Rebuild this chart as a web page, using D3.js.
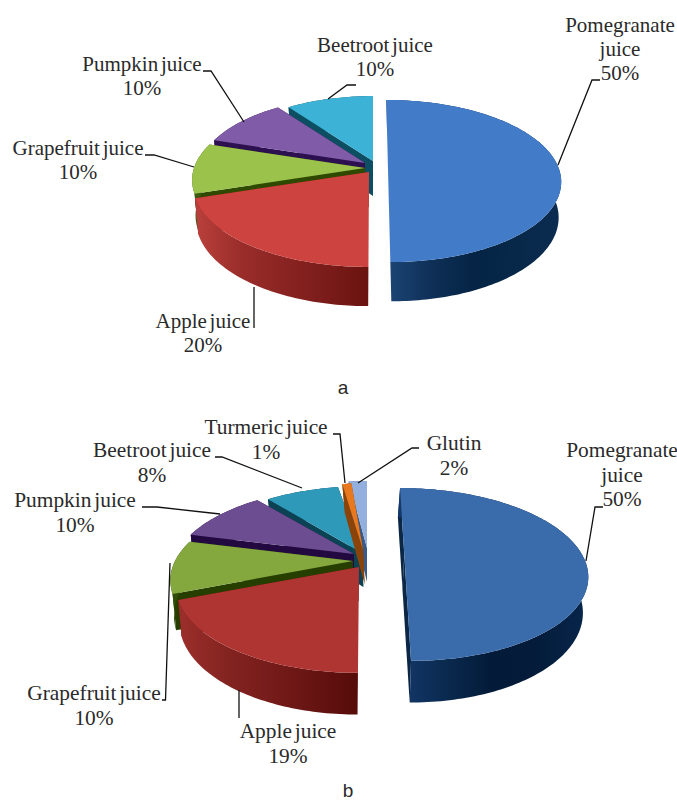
<!DOCTYPE html>
<html>
<head>
<meta charset="utf-8">
<script src="https://cdn.jsdelivr.net/npm/d3@7/dist/d3.min.js"></script>
<style>
html,body{margin:0;padding:0;background:#fff;overflow:hidden}
svg{display:block}
text{fill:#2a2a2a}
</style>
</head>
<body>
<svg id="chart" width="677" height="801"></svg>
<script>
// ---- data ----
const categoriesA = ["Pomegranate juice", "Apple juice", "Grapefruit juice", "Pumpkin juice", "Beetroot juice"];
const valuesA = [50, 20, 10, 10, 10];
const categoriesB = ["Pomegranate juice", "Apple juice", "Grapefruit juice", "Pumpkin juice", "Beetroot juice", "Turmeric juice", "Glutin"];
const valuesB = [50, 19, 10, 10, 8, 1, 2];

// ---- styles ----
const topColorsA = ["#427cc8", "#cc4340", "#9bc34b", "#7f5ba8", "#3cb2d6"];
const faceColorsA = ["#153a66", "#7a1a18", "#2f4a00", "#2d1050", "#0d4f62"];
const wallStopsA = [
  ["#1c4676", "#0f3058", "#052445", "#072848", "#0b2c50"],
  ["#b83f3b", "#9a2d2a", "#8a2422", "#7a1c1a", "#6a130f"],
  ["#3a5a10", "#3a5a10"], ["#2d1050", "#2d1050"], ["#0d4f62", "#0d4f62"]
];
const topColorsB = ["#3a6cac", "#ae3532", "#84a73e", "#6d4d91", "#2f99ba", "#e8791f", "#93afde"];
const faceColorsB = ["#0b2745", "#5c1210", "#263f00", "#220a40", "#0b4355", "#8a4308", "#3a5a88"];
const wallStopsB = [
  ["#14386a", "#0a2a50", "#031b38", "#041c3a", "#07254a"],
  ["#9a2e2a", "#842421", "#761c1a", "#661412", "#560c09"],
  ["#2f4d08", "#2f4d08"], ["#220a40", "#220a40"], ["#0b4355", "#0b4355"], ["#8a4308", "#8a4308"], ["#3a5a88", "#3a5a88"]
];

// ---- layout: projection of each pie and the place of each slice ----
const viewA = {w: 171, h: 79.3, p: 0.148, d: 35, q: 0.02};
const viewB = {w: 178, h: 82, p: 0.225, d: 34, q: 0.02};
const placeA = [
  {ax: 388, ay: 169, lean: 0.025, r: 1, shift: 0},
  {ax: 369, ay: 172, lean: -0.006, r: 1.02, shift: 0},
  {ax: 365, ay: 168, lean: 0, r: 1, shift: 0},
  {ax: 365, ay: 163, lean: 0, r: 0.97, shift: 0},
  {ax: 373, ay: 161, lean: 0, r: 0.94, shift: 0}
];
const placeB = [
  {ax: 404.3, ay: 555, lean: 0.0636, r: 1, shift: -4},
  {ax: 359, ay: 567, lean: -0.01, r: 1, shift: 0},
  {ax: 353, ay: 561, lean: 0, r: 1, shift: 0},
  {ax: 354, ay: 554, lean: 0, r: 1, shift: 0},
  {ax: 362, ay: 553, lean: -0.05, r: 1, shift: 3},
  {ax: 363, ay: 550, lean: -0.1, r: 1, shift: 5},
  {ax: 367, ay: 548, lean: 0, r: 1, shift: 0}
];
const orderA = [4, 3, 2, 0, 1];
const orderB = [6, 4, 5, 3, 2, 0, 1];

const labelsA = [
  {lines: ["Pomegranate", "juice"], x: 620, y: 32},
  {lines: ["Apple juice"], x: 203, y: 328},
  {lines: ["Grapefruit juice"], x: 78, y: 155},
  {lines: ["Pumpkin juice"], x: 142, y: 71},
  {lines: ["Beetroot juice"], x: 375, y: 52}
];
const labelsB = [
  {lines: ["Pomegranate", "juice"], x: 622, y: 457},
  {lines: ["Apple juice"], x: 288, y: 738},
  {lines: ["Grapefruit juice"], x: 94, y: 700},
  {lines: ["Pumpkin juice"], x: 75, y: 507},
  {lines: ["Beetroot juice"], x: 152, y: 457},
  {lines: ["Turmeric juice"], x: 266, y: 434},
  {lines: ["Glutin"], x: 454, y: 450}
];
const leadersA = [
  [[600,80],[592,80],[558,165]],
  [[254,287],[254,328]],
  [[145,155],[154,155],[194,167]],
  [[203,71],[211,71],[244,122]],
  [[356,85],[347,85],[328,99]]
];
const leadersB = [
  [[603,507],[595,507],[586,561]],
  [[239,690],[239,718]],
  [[170,563],[165.5,700],[162,700]],
  [[142,507],[157,507],[220,514]],
  [[215,457],[222,457],[302,488]],
  [[333,434],[340,434],[345,483]],
  [[419,448],[412,448],[358,483]]
];
const captions = [{t: "a", x: 343, y: 394}, {t: "b", x: 348, y: 797}];

// ---- drawing ----
const svg = d3.select("#chart");
const defs = svg.append("defs");
const pieGen = d3.pie().sort(null).value(d => d).startAngle(0).endAngle(2 * Math.PI);
const lineGen = d3.line();

function rim(view, pl, th, bottom) {
  const c = Math.cos(th), s = Math.sin(th), D = 1 + view.p * c;
  let dx = pl.r * view.w * s / D, dy = -pl.r * view.h * c / D;
  if (bottom) { dx *= 1 - view.q; dy = dy * (1 - view.q) + view.d / D; }
  return [pl.ax + dx + pl.lean * dy + (bottom ? pl.shift : 0), pl.ay + dy];
}
function apex(view, pl, bottom) {
  const dy = bottom ? view.d : 0;
  return [pl.ax + pl.lean * dy + (bottom ? pl.shift : 0), pl.ay + dy];
}
function arcAngles(a0, a1) {
  const n = Math.max(4, Math.ceil((a1 - a0) / 0.02));
  return d3.range(n + 1).map(i => a0 + (a1 - a0) * i / n);
}

function drawPie(id, values, view, places, order, tops, faces, walls, labels, leaders, fontSize, lineHeight) {
  const arcs = pieGen(values);
  const g = svg.append("g").attr("class", "pie-" + id);
  order.forEach(i => {
    const a = arcs[i], pl = places[i];
    const ths = arcAngles(a.startAngle, a.endAngle);
    const top = ths.map(t => rim(view, pl, t, false));
    const bot = ths.map(t => rim(view, pl, t, true));
    const sl = g.append("g");
    // cut faces
    [a.startAngle, a.endAngle].forEach(t => {
      sl.append("path")
        .attr("d", lineGen([apex(view, pl, false), rim(view, pl, t, false), rim(view, pl, t, true), apex(view, pl, true)]) + "Z")
        .attr("fill", faces[i]);
    });
    // outer wall with horizontal shading
    const ext = d3.extent(bot, p => p[0]);
    const gid = "wall-" + id + "-" + i;
    const grad = defs.append("linearGradient").attr("id", gid)
      .attr("gradientUnits", "userSpaceOnUse")
      .attr("x1", ext[0]).attr("x2", ext[1]).attr("y1", 0).attr("y2", 0);
    walls[i].forEach((c, k, arr) => grad.append("stop").attr("offset", k / (arr.length - 1)).attr("stop-color", c));
    sl.append("path")
      .attr("d", lineGen(top.concat(bot.slice().reverse())) + "Z")
      .attr("fill", "url(#" + gid + ")");
    // top face
    sl.append("path")
      .attr("d", lineGen([apex(view, pl, false)].concat(top)) + "Z")
      .attr("fill", tops[i]);
  });
  // leader lines
  g.selectAll("path.leader").data(leaders).enter().append("path")
    .attr("class", "leader").attr("d", d => lineGen(d))
    .attr("fill", "none").attr("stroke", "#111").attr("stroke-width", 1.3);
  // labels
  labels.forEach((l, i) => {
    const t = g.append("text")
      .attr("text-anchor", "middle")
      .attr("font-family", "'Liberation Serif', serif")
      .attr("font-size", fontSize)
      .attr("word-spacing", -2.5);
    l.lines.concat([values[i] + "%"]).forEach((s, k) => {
      t.append("tspan").attr("x", l.x).attr("y", l.y + k * lineHeight).text(s);
    });
  });
}

drawPie("a", valuesA, viewA, placeA, orderA, topColorsA, faceColorsA, wallStopsA, labelsA, leadersA, 21, 23.8);
drawPie("b", valuesB, viewB, placeB, orderB, topColorsB, faceColorsB, wallStopsB, labelsB, leadersB, 21.4, 24.7);

svg.selectAll("text.cap").data(captions).enter().append("text")
  .attr("class", "cap").attr("x", d => d.x).attr("y", d => d.y)
  .attr("text-anchor", "middle")
  .attr("font-family", "'Liberation Sans', sans-serif")
  .attr("font-size", 19).text(d => d.t);
</script>
</body>
</html>
